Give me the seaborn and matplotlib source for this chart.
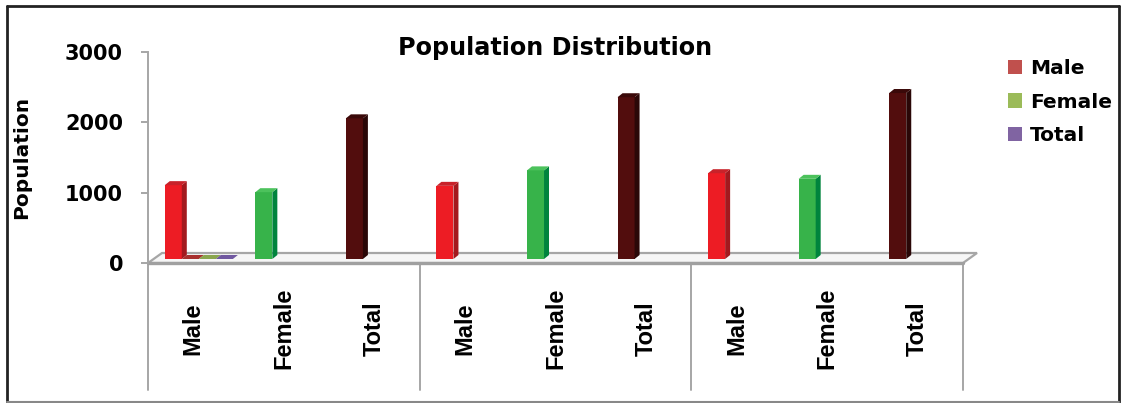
import matplotlib
matplotlib.use("Agg")
import matplotlib.pyplot as plt
import matplotlib.transforms as mtransforms
from matplotlib.patches import Polygon, Patch
from matplotlib.lines import Line2D
import seaborn as sns
import pandas as pd

# ---- data ----
categories = ["Male", "Female", "Total", "Male", "Female", "Total", "Male", "Female", "Total"]
values = [1050, 950, 2000, 1040, 1260, 2300, 1220, 1140, 2360]
legend_series = ["Male", "Female", "Total"]
legend_zero_values = [0, 0, 0]          # series shown flat in the first slot
y_ticks = [0, 1000, 2000, 3000]

bar_colors = {"Male": "#ED1C24", "Female": "#37B34A", "Total": "#520D0D"}
side_colors = {"Male": "#A3191E", "Female": "#00843D", "Total": "#2A0707"}
top_colors = {"Male": "#C8222A", "Female": "#4CC25C", "Total": "#3A0909"}
legend_colors = ["#C0504D", "#9BBB59", "#8064A2"]
legend_flat = ["#A8302E", "#8AA64E", "#7058A0"]

sns.set_style("white")
plt.rcParams["font.family"] = ["DejaVu Sans"]
plt.rcParams["text.color"] = "black"
plt.rcParams["axes.labelcolor"] = "black"

W, H = 1124, 403
fig = plt.figure(figsize=(W / 100, H / 100), dpi=100)
ax_l, ax_r, ax_b, ax_t = 148, 963, 263, 52
ax = fig.add_axes([ax_l / W, 1 - ax_b / H, (ax_r - ax_l) / W, (ax_b - ax_t) / H])

slots = [f"s{i}" for i in range(len(values))]
df = pd.DataFrame({"slot": slots, "value": values, "category": categories})
pal = {s: bar_colors[c] for s, c in zip(slots, categories)}

bar_w = 0.188
sns.barplot(data=df, x="slot", y="value", hue="slot", palette=pal, order=slots,
            width=bar_w, legend=False, errorbar=None, saturation=1,
            edgecolor="none", linewidth=0, ax=ax)

ax.set_xlim(-0.5, len(values) - 0.5)
ax.set_ylim(0, 3000)

px_x = (ax_r - ax_l) / len(values)      # pixels per category
px_y = (ax_b - ax_t) / 3000.0           # pixels per unit

# perspective shift for the bars: left and up into the floor depth
shift = ax.transData + mtransforms.ScaledTranslation(-0.20, 0.04, fig.dpi_scale_trans)
dxd = 5 / px_x
dyd = 4 / px_y


def faces(x0, w, h, side_c, top_c, with_side=True):
    x1 = x0 + w
    if with_side:
        ax.add_patch(Polygon([(x1, 0), (x1 + dxd, dyd), (x1 + dxd, h + dyd), (x1, h)],
                             closed=True, facecolor=side_c, edgecolor="none",
                             transform=shift, zorder=3))
    ax.add_patch(Polygon([(x0, h), (x0 + dxd, h + dyd), (x1 + dxd, h + dyd), (x1, h)],
                         closed=True, facecolor=top_c, edgecolor="none",
                         transform=shift, zorder=3))


for p, cat in zip(ax.patches[:len(values)], categories):
    p.set_transform(shift)
    p.set_zorder(3)
    faces(p.get_x(), p.get_width(), p.get_height(), side_colors[cat], top_colors[cat])

# zero-height series lying flat next to the first bar
first = ax.patches[0]
for k, (v, c) in enumerate(zip(legend_zero_values, legend_flat)):
    x0 = first.get_x() + first.get_width() * (k + 1)
    faces(x0, first.get_width(), v, c, c, with_side=False)

# floor of the 3D plot area
fdx, fdy = 14 / px_x, 10 / px_y
x_lo, x_hi = -0.5, len(values) - 0.5
ax.add_patch(Polygon([(x_lo, 0), (x_lo + fdx, fdy), (x_hi + fdx, fdy), (x_hi, 0)],
                     closed=True, facecolor="#F6F6F6", edgecolor="#A6A6A6",
                     linewidth=1.6, clip_on=False, zorder=2))
ax.plot([x_lo, x_hi], [0, 0], color="#A0A0A0", linewidth=2.4, clip_on=False, zorder=2.5)

# group dividers below the floor
xt = ax.get_xaxis_transform()
div_bottom = (ax_b - 390) / (ax_b - ax_t)
for xd in [-0.5, 2.5, 5.5, 8.5]:
    ax.plot([xd, xd], [0, div_bottom], color="#A6A6A6", linewidth=1.4,
            transform=xt, clip_on=False, zorder=2)

# axes styling
for s in ["top", "right", "bottom"]:
    ax.spines[s].set_visible(False)
ax.spines["left"].set_color("#A6A6A6")
ax.spines["left"].set_linewidth(1.4)
ax.set_xlabel("")
ax.set_yticks(y_ticks)
ax.set_yticklabels([str(t) for t in y_ticks], fontweight="bold", fontsize=15)
ax.tick_params(axis="y", length=5, width=1.4, color="#A6A6A6", labelcolor="black",
               pad=13, left=True)
ax.set_xticks(range(len(values)))
ax.set_xticklabels(categories, rotation=90, fontweight="bold", fontsize=17,
                   fontfamily="Liberation Sans", va="center")
ax.tick_params(axis="x", length=0, pad=47, labelcolor="black")
ax.set_ylabel("Population", fontweight="bold", fontsize=14.5, color="black")
ax.yaxis.set_label_coords((31 - ax_l) / (ax_r - ax_l), 0.5)
ax.set_title("Population Distribution", fontweight="bold", fontsize=17.2, color="black",
             y=(ax_b - 55) / (ax_b - ax_t), pad=0, va="baseline")

# legend
handles = [Patch(facecolor=c, edgecolor="none") for c in legend_colors]
fig.legend(handles, legend_series, loc="upper left",
           bbox_to_anchor=(1008 / W, 1 - 59 / H), frameon=False,
           prop=dict(family="DejaVu Sans", weight="bold", size=14.5),
           handlelength=0.7, handleheight=0.7, handletextpad=0.4,
           labelspacing=0.72, borderpad=0, borderaxespad=0, labelcolor="black")

# chart frame
fig.add_artist(Line2D([7 / W, 7 / W], [1 - 6 / H, 1 - 402 / H], color="#222222", lw=2))
fig.add_artist(Line2D([7 / W, 1119 / W], [1 - 6 / H, 1 - 6 / H], color="#222222", lw=2))
fig.add_artist(Line2D([1119 / W, 1119 / W], [1 - 6 / H, 1 - 402 / H], color="#222222", lw=2))
fig.add_artist(Line2D([7 / W, 1119 / W], [1 - 402 / H, 1 - 402 / H], color="#888888", lw=1.5))

fig.savefig("out.png", dpi=100)
